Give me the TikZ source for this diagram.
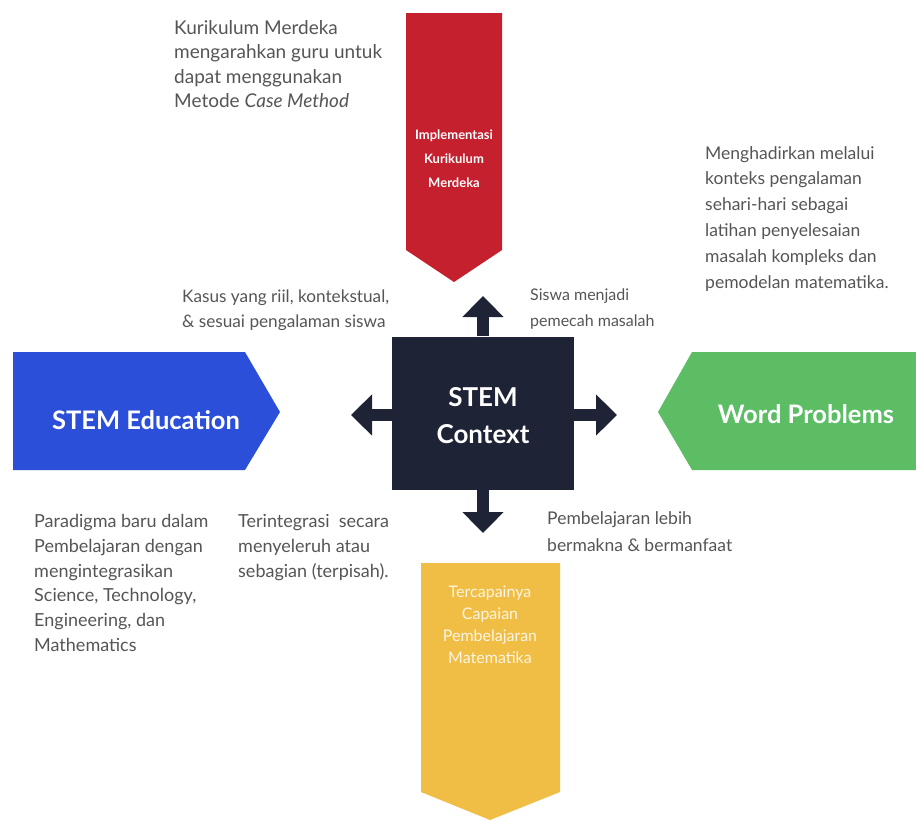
\documentclass[tikz,border=0pt]{standalone}
\usepackage{fontspec}
\setmainfont{Lato}
\usetikzlibrary{arrows.meta}
\definecolor{bannerred}{HTML}{C5202E}
\definecolor{bannerblue}{HTML}{2B4FD8}
\definecolor{bannergreen}{HTML}{5CBD65}
\definecolor{banneryellow}{HTML}{F0BE44}
\definecolor{navy}{HTML}{1E2436}
\definecolor{notegray}{HTML}{555555}
\begin{document}
\begin{tikzpicture}[x=1pt,y=-1pt,
  note/.style={text=notegray, font=\fontsize{17.2}{25}\selectfont, align=left, anchor=north west, inner sep=0pt},
  bannertext/.style={text=white, align=center, inner sep=0pt},
  blockarrow/.style={draw=navy, line width=12pt, -{Triangle[width=40pt,length=21pt]}}]
\useasboundingbox (0,0) rectangle (916,820);

% banners
\fill[bannerred] (406,13) -- (502,13) -- (502,250) -- (454,282) -- (406,250) -- cycle;
\fill[bannerblue] (13,352) -- (245,352) -- (280,412) -- (245,470) -- (13,470) -- cycle;
\fill[bannergreen] (916,352) -- (692,352) -- (658,412) -- (692,470) -- (916,470) -- cycle;
\fill[banneryellow] (421,563) -- (560,563) -- (560,792) -- (490,820) -- (421,792) -- cycle;

\node[bannertext, font=\bfseries\fontsize{13}{24}\selectfont] (impl) at (454,159) {Implementasi\\Kurikulum\\Merdeka};
\node[bannertext, font=\bfseries\fontsize{25.5}{30}\selectfont] (edu) at (146,420) {STEM Education};
\node[bannertext, font=\bfseries\fontsize{25.5}{30}\selectfont] (word) at (806,414) {Word Problems};
\node[bannertext, text=white!85!banneryellow, font=\fontsize{16}{22}\selectfont] (capai) at (490,625) {Tercapainya\\Capaian\\Pembelajaran\\Matematika};

% central box and its label
\node[fill=navy, minimum width=182pt, minimum height=153pt, inner sep=0pt] (ctx) at (483,413) {};
\node[text=white, align=center, inner sep=0pt, font=\bfseries\fontsize{26}{37}\selectfont]
  (ctxlabel) at ([yshift=-3pt]ctx.center) {STEM\\Context};

\coordinate (tipN) at (483,296);
\coordinate (tipS) at (483,533);
\coordinate (tipW) at (351,415);
\coordinate (tipE) at (617,415);
\draw[blockarrow] (ctx.north) -- (tipN);
\draw[blockarrow] (ctx.south) -- (tipS);
\draw[blockarrow] (ctx.west |- tipW) -- (tipW);
\draw[blockarrow] (ctx.east |- tipE) -- (tipE);

% notes
\node[note, font=\fontsize{19}{24.5}\selectfont] (n1) at (174,20) {Kurikulum Merdeka\\mengarahkan guru untuk\\dapat menggunakan\\Metode \textit{Case Method}};
\node[note, font=\fontsize{17.5}{25.8}\selectfont] (n2) at (705,146) {Menghadirkan melalui\\konteks pengalaman\\sehari-hari sebagai\\latihan penyelesaian\\masalah kompleks dan\\pemodelan matematika.};
\node[note] (n3) at (182,290) {Kasus yang riil, kontekstual,\\\& sesuai pengalaman siswa};
\node[note, font=\fontsize{16}{25.5}\selectfont] (n4) at (530,289) {Siswa menjadi\\pemecah masalah};
\node[note, font=\fontsize{18}{24.8}\selectfont] (n5) at (34,514) {Paradigma baru dalam\\Pembelajaran dengan\\mengintegrasikan\\Science, Technology,\\Engineering, dan\\Mathematics};
\node[note, font=\fontsize{18}{25}\selectfont] (n6) at (238,514) {Terintegrasi\ \ secara\\menyeleruh atau\\sebagian (terpisah).};
\node[note, font=\fontsize{17.5}{27}\selectfont] (n7) at (547,511) {Pembelajaran lebih\\bermakna \& bermanfaat};
\end{tikzpicture}
\end{document}
